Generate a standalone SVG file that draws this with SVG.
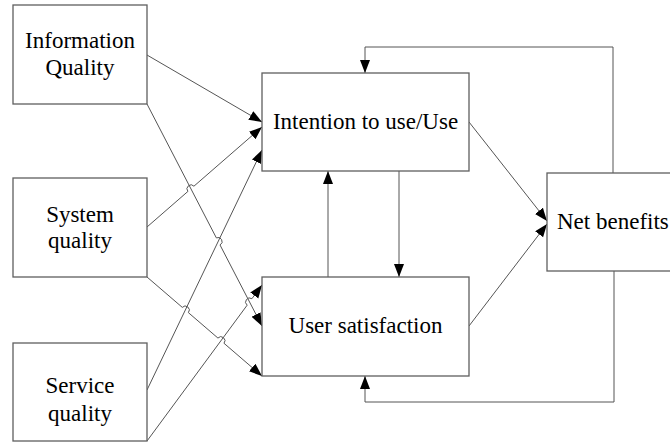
<svg xmlns="http://www.w3.org/2000/svg" width="670" height="443" viewBox="0 0 670 443">
<style>
.box{fill:#fff;stroke:#5f5f5f;stroke-width:1.3}
.t{font-size:23px;fill:#000;text-anchor:middle}
.c{fill:none;stroke:#555;stroke-width:1}
</style>
<defs>
<marker id="ah" markerUnits="userSpaceOnUse" markerWidth="14" markerHeight="11" refX="13" refY="5" orient="auto">
<path d="M0,0 L13,5 L0,10 z" fill="#000"/>
</marker>
</defs>
<rect width="670" height="443" fill="#fff"/>
<g id="connectors">
<path class="c" d="M147,55 L262,122" marker-end="url(#ah)"/>
<path class="c" d="M147,104 L216.35,237.88 A4,4 0 0 1 220.03,244.98 L262,326" marker-end="url(#ah)"/>
<path class="c" d="M147,227 L187.91,191.42 A4,4 0 0 1 193.95,186.18 L262,127" marker-end="url(#ah)"/>
<path class="c" d="M147,390 L262,150" marker-end="url(#ah)"/>
<path class="c" d="M147,277 L182.30,307.39 A4,4 0 0 1 188.36,312.61 L217.93,338.06 A4,4 0 0 1 223.99,343.28 L262,376" marker-end="url(#ah)"/>
<path class="c" d="M147,441 L247.16,305.15 A4,4 0 0 1 251.90,298.71 L262,285" marker-end="url(#ah)"/>
<path class="c" d="M328,277 V171" marker-end="url(#ah)"/>
<path class="c" d="M399,171 V277" marker-end="url(#ah)"/>
<path class="c" d="M469,122 L547,221" marker-end="url(#ah)"/>
<path class="c" d="M469,326 L547,224" marker-end="url(#ah)"/>
<path class="c" d="M613,173 V47 H365 V73" marker-end="url(#ah)"/>
<path class="c" d="M614,271 V402 H365 V376" marker-end="url(#ah)"/>
</g>
<g font-family="'Liberation Serif', 'DejaVu Serif', serif">
<g id="info">
<rect class="box" x="13" y="5" width="134" height="99"/>
<text class="t" x="80" y="48">Information</text>
<text class="t" x="80" y="75">Quality</text>
</g>
<g id="system">
<rect class="box" x="13" y="178" width="134" height="99"/>
<text class="t" x="80" y="222">System</text>
<text class="t" x="80" y="248">quality</text>
</g>
<g id="service">
<rect class="box" x="13" y="343" width="134" height="98"/>
<text class="t" x="80" y="393">Service</text>
<text class="t" x="80" y="421">quality</text>
</g>
<g id="intention">
<rect class="box" x="262" y="73" width="207" height="98"/>
<text class="t" x="365.5" y="129">Intention to use/Use</text>
</g>
<g id="satisfaction">
<rect class="box" x="262" y="277" width="207" height="99"/>
<text class="t" x="365.5" y="333">User satisfaction</text>
</g>
<g id="netbenefits">
<rect class="box" x="547" y="173" width="140" height="98"/>
<text class="t" x="557" y="229" style="text-anchor:start">Net benefits</text>
</g>
</g>
</svg>
